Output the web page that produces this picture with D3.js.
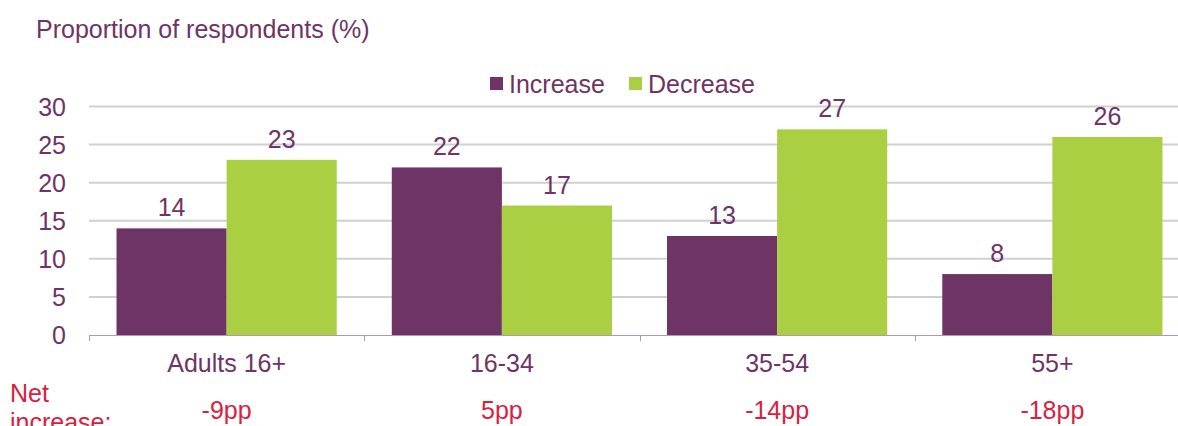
<!DOCTYPE html>
<html>
<head>
<meta charset="utf-8">
<script src="https://cdn.jsdelivr.net/npm/d3@7"></script>
<style>
  html, body { margin: 0; padding: 0; background: #fff; }
  svg { display: block; font-family: "Liberation Sans", Arial, sans-serif; }
</style>
</head>
<body>
<svg id="chart" width="1178" height="426"></svg>
<script>
// Age groups and survey shares (%)
const categories = ["Adults 16+", "16-34", "35-54", "55+"];
const increase = [14, 22, 13, 8];
const decrease = [23, 17, 27, 26];
const netLabels = ["-9pp", "5pp", "-14pp", "-18pp"];
const seriesNames = ["Increase", "Decrease"];
const yTicks = [0, 5, 10, 15, 20, 25, 30];

const purple = "#6E3465";
const green = "#ABCF42";
const textColor = "#6E3465";
const red = "#D8213F";
const fs = 25;

const svg = d3.select("#chart");
const plotLeft = 89, plotRight = 1190, plotTop = 106.5, plotBottom = 335;

const x = d3.scaleBand().domain(categories).range([plotLeft, plotRight])
  .paddingInner(0.2).paddingOuter(0.1);
const xs = d3.scaleBand().domain(seriesNames).range([0, x.bandwidth()]);
const y = d3.scaleLinear().domain([0, 30]).range([plotBottom, plotTop]);

// Gridlines
svg.append("g").selectAll("line").data(yTicks.filter(d => d > 0)).join("line")
  .attr("x1", plotLeft).attr("x2", 1178)
  .attr("y1", d => y(d)).attr("y2", d => y(d))
  .attr("stroke", "#D0D0D0").attr("stroke-width", 2);

// Y axis labels
svg.append("g").selectAll("text").data(yTicks).join("text")
  .attr("x", 66).attr("y", d => y(d) + 9)
  .attr("text-anchor", "end").attr("font-size", fs).attr("fill", textColor)
  .text(d => d);

// Bars
const rows = categories.map((c, i) => ({ c, vals: [
  { s: "Increase", v: increase[i], col: purple },
  { s: "Decrease", v: decrease[i], col: green }
]}));

const groups = svg.append("g").selectAll("g").data(rows).join("g")
  .attr("transform", d => `translate(${x(d.c)},0)`);

groups.selectAll("rect").data(d => d.vals).join("rect")
  .attr("x", d => xs(d.s)).attr("width", xs.bandwidth())
  .attr("y", d => y(d.v)).attr("height", d => y(0) - y(d.v))
  .attr("fill", d => d.col);

groups.selectAll("text").data(d => d.vals).join("text")
  .attr("x", d => xs(d.s) + xs.bandwidth() / 2)
  .attr("y", d => y(d.v) - 12)
  .attr("text-anchor", "middle").attr("font-size", fs).attr("fill", textColor)
  .text(d => d.v);

// X axis line and ticks
svg.append("line").attr("x1", plotLeft).attr("x2", 1178)
  .attr("y1", plotBottom + 0.5).attr("y2", plotBottom + 0.5)
  .attr("stroke", "#B596B0").attr("stroke-width", 1);
const tickXs = categories.map(c => x(c) - x.step() * x.paddingOuter());
svg.append("g").selectAll("line").data(tickXs).join("line")
  .attr("x1", d => Math.round(d) + 0.5).attr("x2", d => Math.round(d) + 0.5)
  .attr("y1", plotBottom).attr("y2", plotBottom + 6)
  .attr("stroke", "#B596B0").attr("stroke-width", 1);

// Category labels
svg.append("g").selectAll("text").data(categories).join("text")
  .attr("x", d => x(d) + x.bandwidth() / 2).attr("y", 372)
  .attr("text-anchor", "middle").attr("font-size", fs).attr("fill", textColor)
  .text(d => d);

// Net change row
svg.append("g").selectAll("text").data(categories).join("text")
  .attr("x", d => x(d) + x.bandwidth() / 2).attr("y", 419)
  .attr("text-anchor", "middle").attr("font-size", fs).attr("fill", red)
  .text((d, i) => netLabels[i]);
svg.append("text").attr("x", 10).attr("y", 402)
  .attr("font-size", fs).attr("fill", red).text("Net");
svg.append("text").attr("x", 10).attr("y", 431)
  .attr("font-size", fs).attr("fill", red).text("increase:");

// Title
svg.append("text").attr("x", 36).attr("y", 38)
  .attr("font-size", fs).attr("fill", textColor).text("Proportion of respondents (%)");

// Legend
const legend = [
  { name: seriesNames[0], col: purple, x: 490 },
  { name: seriesNames[1], col: green, x: 629 }
];
const lg = svg.append("g").selectAll("g").data(legend).join("g")
  .attr("transform", d => `translate(${d.x},77)`);
lg.append("rect").attr("width", 13).attr("height", 13).attr("fill", d => d.col);
lg.append("text").attr("x", 19).attr("y", 16)
  .attr("font-size", fs).attr("fill", textColor).text(d => d.name);
</script>
</body>
</html>
